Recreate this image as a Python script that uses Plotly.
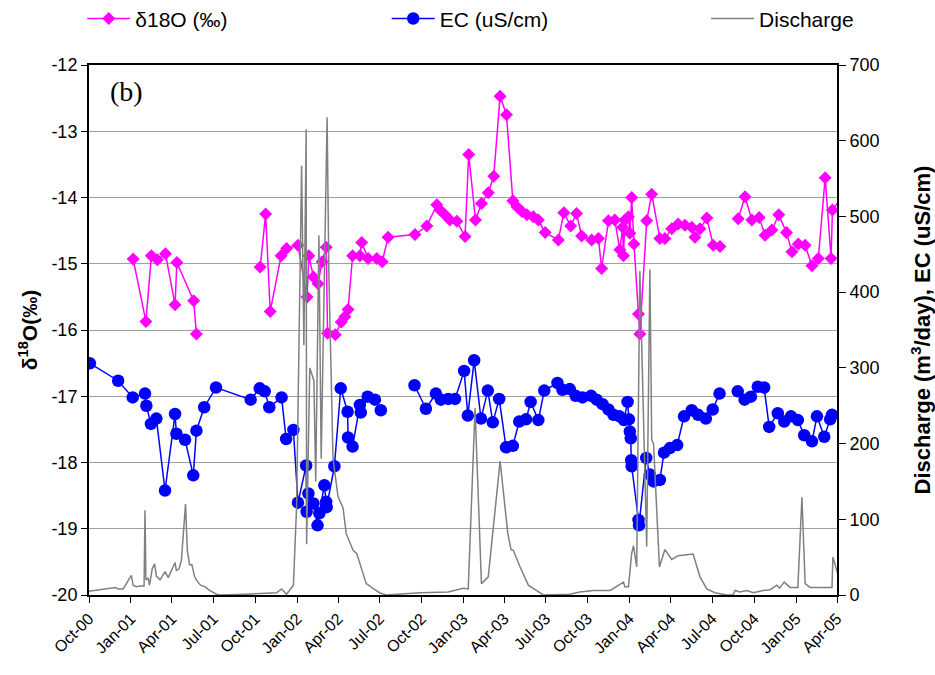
import plotly.graph_objects as go

# ---------------- data ----------------
d18o_dates = ["2001-01-06", "2001-02-03", "2001-02-15", "2001-02-28", "2001-03-18", "2001-04-08",
              "2001-04-12", "2001-05-19", "2001-05-25", "2001-08-15",
              "2001-10-12", "2001-10-24", "2001-11-03", "2001-11-27", "2001-12-09",
              "2002-01-03", "2002-01-23", "2002-01-27", "2002-02-06", "2002-02-16", "2002-02-25",
              "2002-03-06", "2002-03-09", "2002-03-26", "2002-04-08", "2002-04-16", "2002-04-23",
              "2002-05-03", "2002-05-19", "2002-05-23", "2002-06-06", "2002-06-25", "2002-07-07",
              "2002-07-20", "2002-09-17", "2002-10-13", "2002-11-04", "2002-11-11", "2002-11-22",
              "2002-12-03", "2002-12-18", "2003-01-05", "2003-01-13", "2003-01-28", "2003-02-10",
              "2003-02-25", "2003-03-09", "2003-03-23", "2003-04-06", "2003-04-20", "2003-04-29",
              "2003-05-10", "2003-05-21", "2003-06-04", "2003-06-15", "2003-06-30", "2003-07-29",
              "2003-08-10", "2003-08-25", "2003-09-07", "2003-09-18", "2003-10-10", "2003-10-25",
              "2003-11-01", "2003-11-16", "2003-11-30", "2003-12-11", "2003-12-17", "2003-12-19",
              "2003-12-22", "2003-12-30", "2004-01-02", "2004-01-06", "2004-01-11", "2004-01-21",
              "2004-01-24", "2004-02-08", "2004-02-19", "2004-03-08", "2004-03-19", "2004-04-03",
              "2004-04-17", "2004-05-02", "2004-05-17", "2004-05-24", "2004-06-04", "2004-06-19",
              "2004-07-03", "2004-07-18", "2004-08-05",
              "2004-08-27", "2004-09-11", "2004-09-26", "2004-10-12", "2004-10-25", "2004-11-09",
              "2004-11-24", "2004-12-11", "2004-12-23", "2005-01-06", "2005-01-21", "2005-02-05",
              "2005-02-19", "2005-03-06", "2005-03-19", "2005-03-22", "2005-04-15"]
d18o_vals = [-14.93, -15.87, -14.88, -14.94, -14.85, -15.62,
             -14.98, -15.56, -16.06, None,
             -15.05, -14.25, -15.72, -14.88, -14.77,
             -14.72, -15.50, -14.88, -15.20, -15.30, -14.97,
             -14.75, -16.05, -16.07, -15.88, -15.80, -15.69,
             -14.88, -14.88, -14.68, -14.92, -14.92, -14.97,
             -14.60, -14.56, -14.43, -14.11, -14.19, -14.26,
             -14.34, -14.36, -14.59, -13.35, -14.34, -14.09,
             -13.93, -13.68, -12.47, -12.75, -14.05, -14.14,
             -14.21, -14.26, -14.29, -14.34, -14.53, -14.64,
             -14.23, -14.43, -14.24, -14.58, -14.64, -14.62,
             -15.07, -14.35, -14.34, -14.79, -14.45, -14.88,
             -14.34, -14.29, -14.54, -14.00, -14.70, -15.76,
             -16.06, -14.35, -13.95, -14.62, -14.62, -14.47,
             -14.40, -14.42, -14.45, -14.60, -14.47, -14.31,
             -14.72, -14.74, None,
             -14.32, -13.99, -14.34, -14.30, -14.57, -14.49,
             -14.26, -14.53, -14.82, -14.70, -14.72, -15.03,
             -14.92, -13.70, -14.92, -14.19, -13.96]

ec_dates = ["2000-10-03", "2000-12-04", "2001-01-05", "2001-02-01", "2001-02-04", "2001-02-14",
            "2001-02-26", "2001-03-17", "2001-04-08", "2001-04-11", "2001-04-30", "2001-05-18",
            "2001-05-25", "2001-06-11", "2001-07-07", "2001-09-21", "2001-10-11", "2001-10-22",
            "2001-11-01", "2001-11-28", "2001-12-08", "2001-12-24", "2002-01-03", "2002-01-21",
            "2002-01-22", "2002-01-26", "2002-02-06", "2002-02-15", "2002-02-19", "2002-03-02",
            "2002-03-06", "2002-03-07", "2002-03-24", "2002-04-07", "2002-04-22", "2002-04-23",
            "2002-05-03", "2002-05-19", "2002-05-21", "2002-06-05", "2002-06-21", "2002-07-04",
            "2002-08-10",
            "2002-09-16", "2002-10-11", "2002-11-02", "2002-11-13", "2002-11-29", "2002-12-14",
            "2003-01-03", "2003-01-11", "2003-01-25", "2003-02-09", "2003-02-24", "2003-03-07",
            "2003-03-21", "2003-04-05", "2003-04-20", "2003-05-04", "2003-05-19", "2003-05-29",
            "2003-06-15", "2003-06-28", "2003-07-27", "2003-08-07", "2003-08-23", "2003-09-05",
            "2003-09-20", "2003-10-09", "2003-10-21", "2003-11-03", "2003-11-16", "2003-11-27",
            "2003-12-10", "2003-12-20", "2003-12-28", "2003-12-31", "2004-01-02", "2004-01-04",
            "2004-01-05", "2004-01-06", "2004-01-21", "2004-01-22", "2004-02-07", "2004-02-15",
            "2004-02-23", "2004-03-08", "2004-03-17", "2004-03-30", "2004-04-15", "2004-04-30",
            "2004-05-17", "2004-05-31", "2004-06-17", "2004-07-02", "2004-07-17", "2004-08-05",
            "2004-08-26", "2004-09-10", "2004-09-24", "2004-10-09", "2004-10-23", "2004-11-03",
            "2004-11-22", "2004-12-06", "2004-12-21", "2005-01-05", "2005-01-19", "2005-02-05",
            "2005-02-16", "2005-03-04", "2005-03-17", "2005-03-21"]
ec_vals = [306, 283, 261, 266, 250, 226,
           233, 138, 239, 213, 205, 158,
           217, 248, 274, 258, 273, 269,
           248, 261, 206, 218, 122, 171,
           110, 134, 121, 92, 108, 145,
           123, 116, 170, 273, 242, 208,
           196, 251, 241, 262, 258, 244,
           None,
           277, 246, 266, 258, 259, 259,
           296, 237, 310, 233, 270, 228,
           259, 195, 197, 229, 232, 255,
           231, 270, 280, 271, 272, 263,
           261, 263, 258, 252, 245, 238,
           236, 231, 255, 232, 216, 207,
           178, 170, 99, 92, 181, 159,
           150, 152, 188, 194, 198, 236,
           244, 238, 233, 245, 266, None,
           269, 258, 262, 275, 274, 222,
           240, 229, 236, 231, 211, 203,
           236, 209, 232, 238]

q_dates = ["2000-10-01", "2000-11-23", "2000-11-28", "2000-12-04", "2000-12-15", "2001-01-02",
           "2001-01-06", "2001-01-13", "2001-01-21", "2001-01-30", "2001-02-01", "2001-02-03",
           "2001-02-08", "2001-02-11", "2001-02-17", "2001-02-22", "2001-02-26", "2001-03-06",
           "2001-03-17", "2001-03-24", "2001-03-31", "2001-04-08", "2001-04-11", "2001-04-17",
           "2001-04-22", "2001-04-27", "2001-05-01", "2001-05-05", "2001-05-10", "2001-05-15",
           "2001-05-21", "2001-05-27", "2001-06-03", "2001-06-12", "2001-06-23", "2001-07-08",
           "2001-07-15", "2001-09-12", "2001-11-17", "2001-11-28", "2001-12-09", "2001-12-24",
           "2001-12-31", "2002-01-11", "2002-01-16", "2002-01-21", "2002-01-22", "2002-01-29",
           "2002-02-07", "2002-02-11", "2002-02-18", "2002-02-23", "2002-03-08", "2002-03-12",
           "2002-03-16", "2002-03-21", "2002-04-01", "2002-04-12", "2002-04-19", "2002-05-04",
           "2002-05-12", "2002-05-22", "2002-06-02", "2002-06-16", "2002-07-01", "2002-07-16",
           "2002-09-28", "2002-11-29", "2003-01-01", "2003-01-12", "2003-01-27", "2003-02-10",
           "2003-02-25", "2003-03-23", "2003-04-09", "2003-04-16", "2003-04-21", "2003-05-06",
           "2003-05-24", "2003-06-08", "2003-06-26", "2003-08-23", "2003-09-14", "2003-10-14",
           "2003-11-20", "2003-12-19", "2003-12-22", "2003-12-30", "2004-01-06", "2004-01-10",
           "2004-01-17", "2004-01-24", "2004-02-08", "2004-02-15", "2004-02-19", "2004-02-23",
           "2004-03-07", "2004-03-19", "2004-04-03", "2004-04-17", "2004-05-20", "2004-06-04",
           "2004-06-19", "2004-07-07", "2004-08-02", "2004-08-16", "2004-08-20", "2004-08-31",
           "2004-09-15", "2004-09-29", "2004-10-21", "2004-11-05", "2004-11-20", "2004-11-26",
           "2004-12-06", "2004-12-19", "2005-01-05", "2005-01-14", "2005-01-21", "2005-02-01",
           "2005-03-21", "2005-03-23", "2005-04-04", "2005-04-12", "2005-04-19"]
q_vals = [5, 9, 10, 8, 8, 26,
          13, 11, 12, 12, 112, 20,
          22, 13, 35, 41, 25, 20,
          31, 23, 33, 43, 32, 35,
          46, 81, 120, 59, 40, 40,
          24, 18, 13, 11, 6, 1,
          0, 1, 3, 8, 1, 13,
          117, 567, 330, 615, 67, 300,
          283, 150, 475, 180, 631, 420,
          300, 180, 130, 115, 81, 59,
          55, 37, 15, 9, 3, 0,
          3, 4, 9, 8, 247, 15,
          24, 177, 81, 60, 59, 37,
          13, 7, 0, 1, 4, 6,
          6, 17, 11, 11, 55, 65,
          37, 428, 64, 430, 205, 200,
          37, 60, 47, 52, 54, 24,
          8, 3, 0, 0, 6, 4,
          6, 3, 6, 7, 13, 9,
          17, 10, 10, 129, 15, 10,
          10, 50, 25, 47, 24]

left_ticks = [-20, -19, -18, -17, -16, -15, -14, -13, -12]
left_tick_labels = ["-20", "-19", "-18", "-17", "-16", "-15", "-14", "-13", "-12"]

FONT = "Liberation Sans, Arial, sans-serif"

fig = go.Figure()

fig.add_trace(go.Scatter(
    x=d18o_dates, y=d18o_vals, name="δ18O (‰)", mode="lines+markers",
    line=dict(color="#FF00FF", width=1.5),
    marker=dict(symbol="diamond", size=10, color="#FF00FF"),
    legend="legend", showlegend=True, yaxis="y"))

fig.add_trace(go.Scatter(
    x=ec_dates, y=ec_vals, name="EC (uS/cm)", mode="lines+markers",
    line=dict(color="#0000FF", width=1.5),
    marker=dict(symbol="circle", size=12.5, color="#0000FF"),
    legend="legend2", showlegend=True, yaxis="y2"))

fig.add_trace(go.Scatter(
    x=q_dates, y=q_vals, name="Discharge", mode="lines",
    line=dict(color="#808080", width=1.5),
    legend="legend3", showlegend=True, yaxis="y2"))

leg_common = dict(orientation="h", xref="paper", yref="paper", xanchor="left", yanchor="middle",
                  font=dict(family=FONT, size=21, color="black"), bgcolor="rgba(0,0,0,0)",
                  itemwidth=43, visible=True)

fig.update_layout(
    width=935, height=675, showlegend=True,
    margin=dict(l=89, r=98, t=65, b=80, autoexpand=False),
    plot_bgcolor="white", paper_bgcolor="white",
    legend=dict(leg_common, x=-0.009, y=1.087),
    legend2=dict(leg_common, x=0.398, y=1.087),
    legend3=dict(leg_common, x=0.825, y=1.087),
    xaxis=dict(
        type="date", range=["2000-10-01", "2005-04-01"],
        tick0="2000-10-01", dtick="M3", tickformat="%b-%y", tickangle=-45,
        ticks="outside", ticklen=6, tickcolor="black", tickwidth=1,
        showline=True, linecolor="black", linewidth=2, mirror=True,
        showgrid=False, zeroline=False,
        tickfont=dict(family=FONT, size=16, color="black")),
    yaxis=dict(
        range=[-20, -12], tickvals=left_ticks, ticktext=left_tick_labels,
        ticks="outside", ticklen=6, tickcolor="black", tickwidth=1,
        showline=True, linecolor="black", linewidth=2,
        showgrid=True, gridcolor="#a0a0a0", gridwidth=1, zeroline=False,
        tickfont=dict(family=FONT, size=18, color="black"),
        title=dict(text="δ<sup>18</sup>O(‰)", standoff=8,
                   font=dict(family=FONT, size=21, color="black", weight="bold"))),
    yaxis2=dict(
        range=[0, 700], dtick=100, overlaying="y", side="right",
        ticks="outside", ticklen=7, tickcolor="black", tickwidth=1,
        showline=True, linecolor="black", linewidth=2,
        showgrid=False, zeroline=False,
        tickfont=dict(family=FONT, size=18, color="black"),
        title=dict(text="Discharge (m<sup>3</sup>/day), EC (uS/cm)", standoff=36,
                   font=dict(family=FONT, size=22, color="black", weight="bold"))),
    yaxis3=dict(
        range=[0, 700], dtick=100, overlaying="y", side="right", anchor="x",
        ticks="inside", ticklen=6, tickcolor="black", tickwidth=1,
        showticklabels=False, showline=False, showgrid=False, zeroline=False),
    annotations=[dict(text="(b)", xref="paper", yref="paper", x=0.025, y=0.95,
                      xanchor="left", yanchor="middle", showarrow=False,
                      font=dict(family="Liberation Serif, Times New Roman, serif", size=28, color="black"))],
)

fig.write_html("out.html")
